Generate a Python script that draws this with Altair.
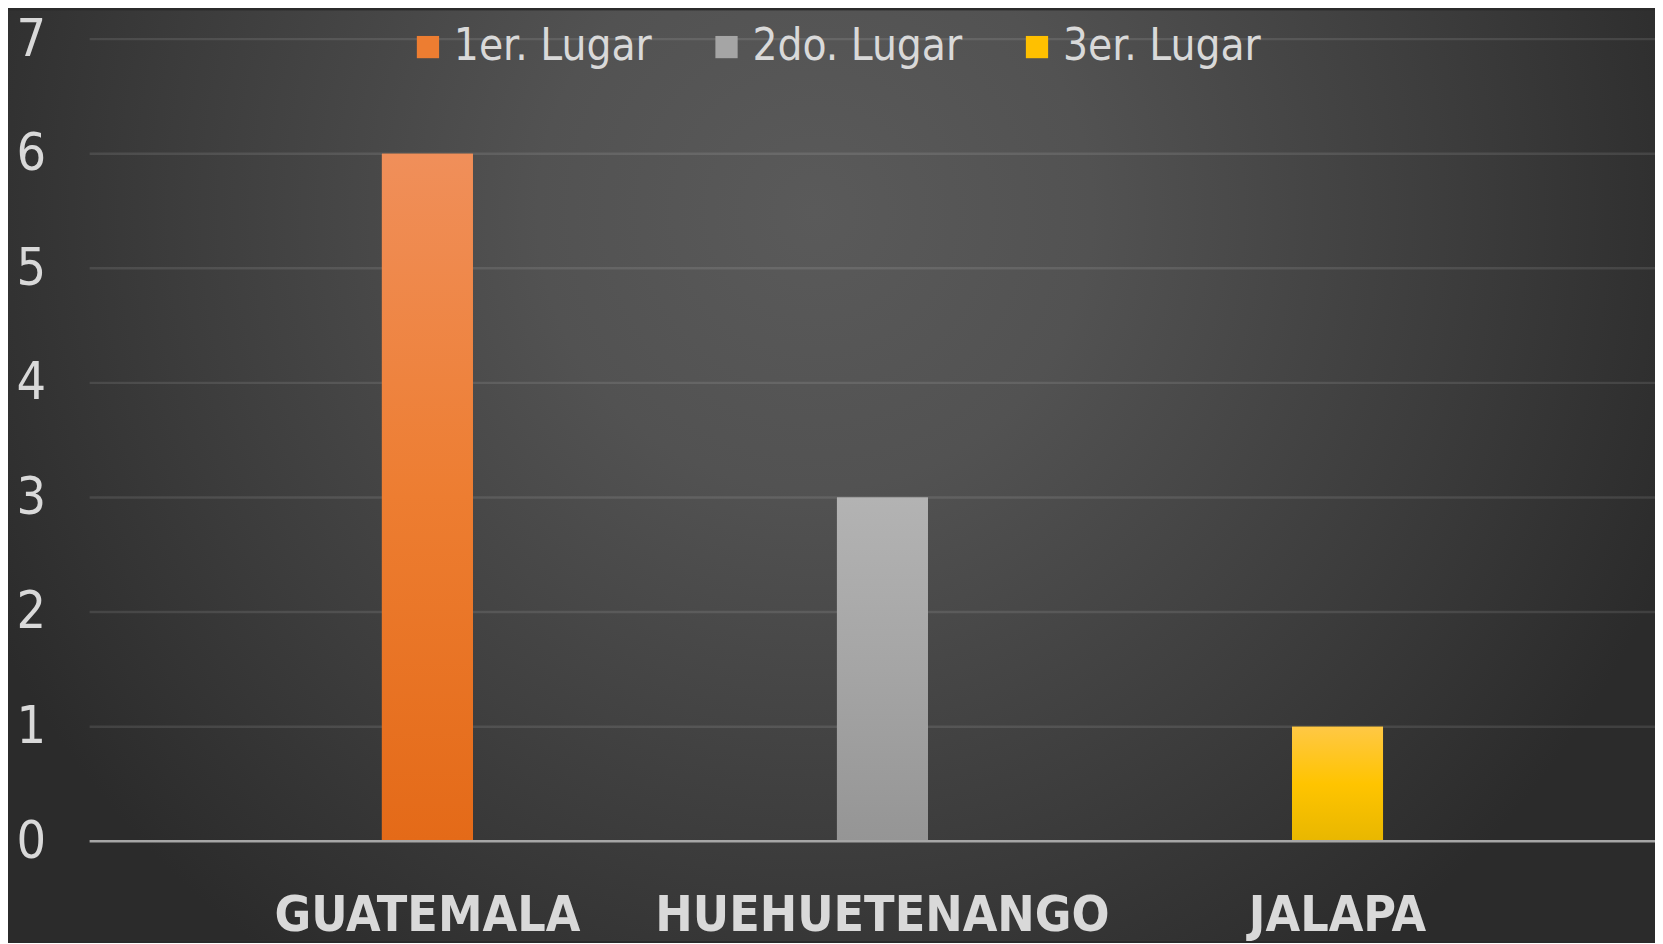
import altair as alt
import pandas as pd

categories = ["GUATEMALA", "HUEHUETENANGO", "JALAPA"]
series = ["1er. Lugar", "2do. Lugar", "3er. Lugar"]
values = [6, 3, 1]
series_colors = ["#ED7D31", "#A5A5A5", "#FFC000"]
grad_stops = [
    [("#F08F5A", 0), ("#ED7D31", 0.5), ("#E46A18", 1)],
    [("#B3B3B3", 0), ("#A5A5A5", 0.5), ("#959595", 1)],
    [("#FFC845", 0), ("#FFC400", 0.5), ("#E8B700", 1)],
]
y_ticks = [0, 1, 2, 3, 4, 5, 6, 7]
grid_vals = [1, 2, 3, 4, 5, 6, 7]

W, H = 1573, 806
PL, PT, PB = 82, 29, 100

df = pd.DataFrame({"region": categories, "lugar": series, "valor": values})
grid_df = pd.DataFrame({"v": grid_vals})

LABEL_FONT = "DejaVu Sans Condensed, Liberation Sans Narrow, sans-serif"

x_enc = alt.X(
    "region:N",
    sort=categories,
    scale=alt.Scale(domain=categories, paddingInner=0.8, paddingOuter=0.62, align=0.518),
    axis=alt.Axis(
        title=None, labelAngle=0, labelFontSize=50, labelFontWeight="bold",
        labelColor="#d9d9d9", labelFont=LABEL_FONT, labelPadding=50,
        labelLimit=800, domain=False, ticks=False, tickSize=0, grid=False, zindex=1,
    ),
)
y_enc = alt.Y(
    "valor:Q",
    scale=alt.Scale(domain=[0, 7], nice=False),
    axis=alt.Axis(
        title=None, values=y_ticks, format="d", labelFontSize=52, labelColor="#d9d9d9",
        labelFont=LABEL_FONT, labelAlign="left", labelBaseline="middle",
        labelPadding=74, domain=False, ticks=False, tickSize=0, grid=False, zindex=1,
    ),
)

bg = alt.Chart(alt.Data(values=[{}])).mark_rect(
    color=alt.RadialGradient(
        gradient="radial",
        stops=[
            alt.GradientStop(color="#5a5a5a", offset=0),
            alt.GradientStop(color="#525252", offset=0.3),
            alt.GradientStop(color="#3c3c3c", offset=0.7),
            alt.GradientStop(color="#2b2b2b", offset=1),
        ],
        x1=0.49, y1=0.34, r1=0, x2=0.49, y2=0.34, r2=0.56,
    )
).encode(
    x=alt.value(-PL), x2=alt.value(W), y=alt.value(-PT), y2=alt.value(H + PB)
)

grid = alt.Chart(grid_df).mark_rule(color="#ffffff", opacity=0.1, strokeWidth=2.5).encode(
    y=alt.Y("v:Q", scale=alt.Scale(domain=[0, 7], nice=False))
)

bars = alt.Chart(df).mark_bar().encode(
    x=x_enc,
    y=y_enc,
    color=alt.Color(
        "lugar:N",
        scale=alt.Scale(domain=series, range=series_colors),
        legend=alt.Legend(
            title=None, orient="none", legendX=318, legendY=-14,
            direction="horizontal", symbolType="square", symbolSize=500,
            symbolStrokeWidth=0, labelFontSize=44, labelFont=LABEL_FONT,
            labelColor="#d9d9d9", labelLimit=500, labelOffset=4,
            columnPadding=53,
        ),
    ),
)

overlays = []
for s, stops in zip(series, grad_stops):
    overlays.append(
        alt.Chart(df).transform_filter(alt.datum.lugar == s).mark_bar(
            color=alt.LinearGradient(
                gradient="linear",
                stops=[alt.GradientStop(color=c, offset=o) for c, o in stops],
                x1=0, x2=0, y1=0, y2=1,
            )
        ).encode(x=x_enc, y=y_enc)
    )

zero = alt.Chart(alt.Data(values=[{}])).mark_rule(color="#a6a6a6", strokeWidth=2.5).encode(
    y=alt.Y(datum=0)
)

chart = alt.layer(bg, grid, bars, *overlays, zero).properties(
    width=W, height=H,
    padding={"left": PL, "top": PT, "right": 0, "bottom": PB},
    autosize=alt.AutoSizeParams(type="none"),
    background="#2b2b2b",
).configure_view(strokeWidth=0)

chart.save("out.html", embed_options={"renderer": "svg", "actions": False})
